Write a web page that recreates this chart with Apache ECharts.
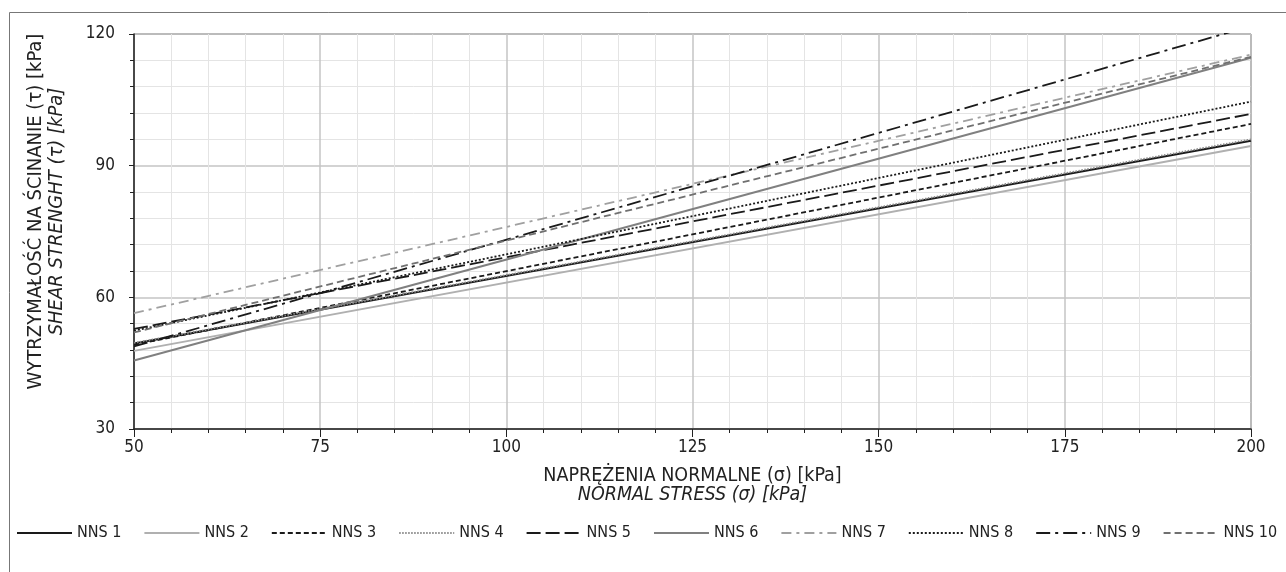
<!DOCTYPE html>
<html>
<head>
<meta charset="utf-8">
<script src="https://cdn.jsdelivr.net/npm/echarts@6/dist/echarts.min.js"></script>
<style>
  html, body { margin: 0; padding: 0; background: #fff; }
  #chart { width: 1286px; height: 572px; }
</style>
</head>
<body>
<div id="chart"></div>
<script>
// normal stress points (line ends) and shear strength
const stress = [50, 200];
const names = ['NNS 1', 'NNS 2', 'NNS 3', 'NNS 4', 'NNS 5', 'NNS 6', 'NNS 7', 'NNS 8', 'NNS 9', 'NNS 10'];
const nns1 = [49.5, 95.7];
const nns2 = [47.8, 94.5];
const nns3 = [49.2, 99.5];
const nns4 = [49.6, 96.0];
const nns5 = [52.8, 101.8];
const nns6 = [45.6, 114.6];
const nns7 = [56.4, 115.3];
const nns8 = [52.4, 104.6];
const nns9 = [48.8, 121.8];
const nns10 = [52.0, 114.8];
const xTicks = [50, 75, 100, 125, 150, 175, 200];
const yTicks = [30, 60, 90, 120];

const FONT = "'Liberation Sans Narrow', 'DejaVu Sans Condensed', 'Roboto', sans-serif";

const styles = [
    { color: '#1a1a1a', type: 'solid', width: 2 },
    { color: '#b0b0b0', type: 'solid', width: 2 },
    { color: '#1a1a1a', type: [5, 3], width: 1.8 },
    { color: '#8a8a8a', type: [1.5, 1.5], width: 1.8 },
    { color: '#1a1a1a', type: [14, 5], width: 1.8 },
    { color: '#808080', type: 'solid', width: 2 },
    { color: '#a0a0a0', type: [10, 5, 3, 5], width: 1.8 },
    { color: '#1a1a1a', type: [2, 2], width: 1.8 },
    { color: '#1a1a1a', type: [14, 5, 3, 5], width: 1.8 },
    { color: '#707070', type: [7, 4], width: 1.8 },
];
const values = [nns1, nns2, nns3, nns4, nns5, nns6, nns7, nns8, nns9, nns10];

const series = names.map((n, i) => ({
    name: n,
    type: 'line',
    symbol: 'none',
    clip: true,
    color: styles[i].color,
    lineStyle: styles[i],
    data: stress.map((x, j) => [x, values[i][j]]),
}));

const chart = echarts.init(document.getElementById('chart'));
chart.setOption({
    animation: false,
    textStyle: { fontFamily: FONT },
    graphic: [{
        type: 'rect',
        shape: { x: 9.5, y: 12.5, width: 1300, height: 600 },
        style: { fill: 'none', stroke: '#777', lineWidth: 1 },
        silent: true,
    }],
    grid: {
        left: 134, right: 35, top: 34, bottom: 143,
        show: true, borderColor: '#444', borderWidth: 1,
    },
    legend: {
        left: 16, top: 525, padding: 0,
        itemWidth: 55, itemHeight: 10, itemGap: 22,
        itemStyle: { opacity: 0 },
        textStyle: { fontFamily: FONT, fontSize: 16, color: '#222', width: 44 },
        data: names,
    },
    xAxis: {
        type: 'value', min: 50, max: 200, interval: 25,
        name: '{a|NAPRĘŻENIA NORMALNE (σ) [kPa]}\n{b|NORMAL STRESS (σ) [kPa]}',
        nameLocation: 'middle', nameGap: 37,
        nameTextStyle: {
            rich: {
                a: { fontFamily: FONT, fontSize: 19.5, color: '#222', lineHeight: 19 },
                b: { fontFamily: FONT, fontSize: 19.5, fontStyle: 'italic', color: '#222', lineHeight: 19 },
            },
        },
        axisLine: { lineStyle: { color: '#222', width: 1.5 } },
        axisTick: { length: 8, lineStyle: { color: '#222' } },
        minorTick: { show: true, splitNumber: 5, length: 4, lineStyle: { color: '#222' } },
        axisLabel: {
            fontSize: 17, color: '#222', margin: 10,
            formatter: (v) => (xTicks.includes(v) ? String(v) : ''),
        },
        splitLine: { lineStyle: { color: '#c4c4c4', width: 1.5 } },
        minorSplitLine: { show: true, lineStyle: { color: '#e4e4e4', width: 1 } },
    },
    yAxis: {
        type: 'value', min: 30, max: 120, interval: 30,
        name: '{a|WYTRZYMAŁOŚĆ NA ŚCINANIE (τ) [kPa]}\n{b|SHEAR STRENGHT (τ) [kPa]}',
        nameLocation: 'middle', nameGap: 67, nameRotate: 90,
        nameTextStyle: {
            padding: [0, 0, 0, 40],
            rich: {
                a: { fontFamily: FONT, fontSize: 20, color: '#222', lineHeight: 21 },
                b: { fontFamily: FONT, fontSize: 20, fontStyle: 'italic', color: '#222', lineHeight: 21 },
            },
        },
        axisLine: { show: true, lineStyle: { color: '#222', width: 1.5 } },
        axisTick: { show: true, length: 5, lineStyle: { color: '#222' } },
        minorTick: { show: true, splitNumber: 5, length: 4, lineStyle: { color: '#222' } },
        axisLabel: {
            fontSize: 17, color: '#222', margin: 19,
            formatter: (v) => (yTicks.includes(v) ? String(v) : ''),
        },
        splitLine: { lineStyle: { color: '#c4c4c4', width: 1.5 } },
        minorSplitLine: { show: true, lineStyle: { color: '#e4e4e4', width: 1 } },
    },
    series: series,
});
</script>
</body>
</html>
